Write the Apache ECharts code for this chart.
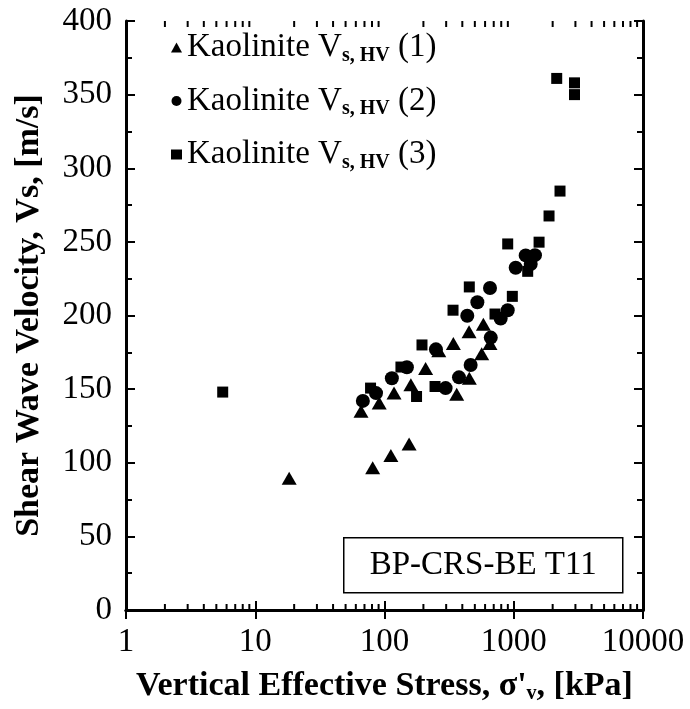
<!DOCTYPE html>
<html>
<head>
<meta charset="utf-8">
<script src="https://cdn.jsdelivr.net/npm/echarts@6/dist/echarts.min.js"></script>
<style>html,body{margin:0;padding:0;background:#fff}#c{width:690px;height:709px}</style>
</head>
<body>
<div id="c"></div>
<script>
// Series 1: Kaolinite Vs,HV (1) — triangles
const s1Stress = [18.3, 65.8, 81, 91, 112, 118.5, 155, 160, 208, 263, 341, 362, 451, 453, 565, 582, 655];
const s1Vs     = [89.4, 135, 96.6, 140.5, 105, 147.3, 112.8, 153, 164, 176, 181, 146.6, 189, 157.4, 174, 194, 181];
// Series 2: Kaolinite Vs,HV (2) — circles
const s2Stress = [68, 86, 114, 149, 250, 297, 377, 437, 464, 523, 655, 664, 792, 898, 1035, 1237, 1353, 1459];
const s2Vs     = [142, 147.3, 157.4, 164.9, 177, 150.7, 158, 199.8, 166.4, 209, 218.7, 185, 198, 203.6, 232.4, 240.8, 235, 241];
// Series 3: Kaolinite Vs,HV (3) — squares
const s3Stress = [5.6, 78, 134, 177, 195, 246, 339, 453, 716, 898, 975, 1282, 1570, 1875, 2280, 2150, 2950, 2950];
const s3Vs     = [148, 150.7, 165, 145, 180, 151.8, 203.6, 219.4, 201, 248.6, 213, 230, 249.8, 267.6, 284.5, 361, 358, 350];

const seriesNames = ['Kaolinite Vs,HV (1)', 'Kaolinite Vs,HV (2)', 'Kaolinite Vs,HV (3)'];
const yTicks = [0, 50, 100, 150, 200, 250, 300, 350, 400];
const xMajor = [1, 10, 100, 1000, 10000];
const xMinor = [];
for (let d = 1; d < 10000; d *= 10) for (let k = 2; k <= 9; k++) xMinor.push(k * d);

const FONT = 'Liberation Serif';
const zip = (a, b) => a.map((v, i) => [v, b[i]]);

const chart = echarts.init(document.getElementById('c'), null, {renderer: 'canvas'});
const axisLine = {show: true, lineStyle: {color: '#000', width: 3}};
const markStyle = {color: '#000', opacity: 1};
const option = {
  animation: false,
  backgroundColor: '#fff',
  grid: {left: 126, right: 47, top: 21, bottom: 96, containLabel: false},
  legend: {
    orient: 'vertical', left: 166, top: 26, itemGap: 19,
    itemWidth: 11, itemHeight: 10, selectedMode: false,
    data: seriesNames,
    formatter: function (name) {
      const n = name.match(/\((\d)\)/)[1];
      return '{a|Kaolinite V}{s|s, HV}{a| (' + n + ')}';
    },
    textStyle: {
      fontFamily: FONT, color: '#000',
      rich: {
        a: {fontFamily: FONT, fontSize: 33, lineHeight: 36, color: '#000'},
        s: {fontFamily: FONT, fontSize: 20, fontWeight: 'bold', lineHeight: 12, verticalAlign: 'bottom', color: '#000'}
      }
    }
  },
  xAxis: [{
    type: 'log', logBase: 10, min: 1, max: 10000, position: 'bottom',
    axisLine: axisLine,
    axisTick: {show: true, inside: true, length: 9, lineStyle: {color: '#000', width: 2}},
    splitLine: {show: false},
    axisLabel: {fontFamily: FONT, fontSize: 33, color: '#000', margin: 16,
      formatter: v => xMajor.includes(v) ? String(v) : ''},
    name: '{b|Vertical Effective Stress, σ\'}{v|v}{b|, [kPa]}',
    nameLocation: 'middle', nameGap: 58,
    nameTextStyle: {
      rich: {
        b: {fontFamily: FONT, fontSize: 34, fontWeight: 'bold', color: '#000', lineHeight: 36},
        v: {fontFamily: FONT, fontSize: 20, fontWeight: 'bold', color: '#000', lineHeight: 12, verticalAlign: 'bottom'}
      }
    }
  }, {
    type: 'log', logBase: 10, min: 1, max: 10000, position: 'top',
    axisLine: axisLine,
    axisTick: {show: true, inside: true, length: 9, lineStyle: {color: '#000', width: 2}},
    axisLabel: {show: false}, splitLine: {show: false}
  }],
  yAxis: [{
    type: 'value', min: 0, max: 400, interval: 50, position: 'left',
    axisLine: axisLine,
    axisTick: {show: true, inside: true, length: 9, lineStyle: {color: '#000', width: 2}},
    minorTick: {show: true, splitNumber: 2, length: 6, lineStyle: {color: '#000', width: 2}},
    splitLine: {show: false},
    axisLabel: {fontFamily: FONT, fontSize: 33, color: '#000', margin: 14,
      formatter: v => yTicks.includes(v) ? String(v) : ''},
    name: 'Shear Wave Velocity, Vs, [m/s]',
    nameLocation: 'middle', nameGap: 80,
    nameTextStyle: {fontFamily: FONT, fontSize: 34, fontWeight: 'bold', color: '#000'}
  }, {
    type: 'value', min: 0, max: 400, interval: 50, position: 'right',
    axisLine: axisLine,
    axisTick: {show: true, inside: true, length: 9, lineStyle: {color: '#000', width: 2}},
    minorTick: {show: true, splitNumber: 2, length: 6, lineStyle: {color: '#000', width: 2}},
    axisLabel: {show: false}, splitLine: {show: false}
  }],
  series: [
    {
      name: seriesNames[0], type: 'scatter', symbol: 'triangle', symbolSize: [15, 13],
      itemStyle: markStyle, data: zip(s1Stress, s1Vs), z: 3
    },
    {
      name: seriesNames[1], type: 'scatter', symbol: 'circle', symbolSize: 14,
      itemStyle: markStyle, data: zip(s2Stress, s2Vs), z: 3
    },
    {
      name: seriesNames[2], type: 'scatter', symbol: 'rect', symbolSize: 11,
      itemStyle: markStyle, data: zip(s3Stress, s3Vs), z: 3
    },
    {
      name: 'minorTicksX', type: 'custom', silent: true, z: 2,
      data: xMinor.map(v => [v, 0]),
      renderItem: function (params, api) {
        const b = api.coord([api.value(0), 0]);
        const t = api.coord([api.value(0), 400]);
        return {type: 'group', children: [
          {type: 'line', shape: {x1: b[0], y1: b[1], x2: b[0], y2: b[1] - 6}, style: {stroke: '#000', lineWidth: 2}},
          {type: 'line', shape: {x1: t[0], y1: t[1], x2: t[0], y2: t[1] + 6}, style: {stroke: '#000', lineWidth: 2}}
        ]};
      }
    }
  ],
  graphic: [{
    type: 'group', left: 343, top: 537, z: 10,
    children: [
      {type: 'rect', shape: {x: 0, y: 0, width: 279, height: 55}, style: {fill: '#fff', stroke: '#000', lineWidth: 1.5}},
      {type: 'text', x: 139.5, y: 28, style: {text: 'BP-CRS-BE T11', fontFamily: FONT, fontSize: 33, fill: '#000', align: 'center', verticalAlign: 'middle'}}
    ]
  }]
};
chart.setOption(option);
</script>
</body>
</html>
